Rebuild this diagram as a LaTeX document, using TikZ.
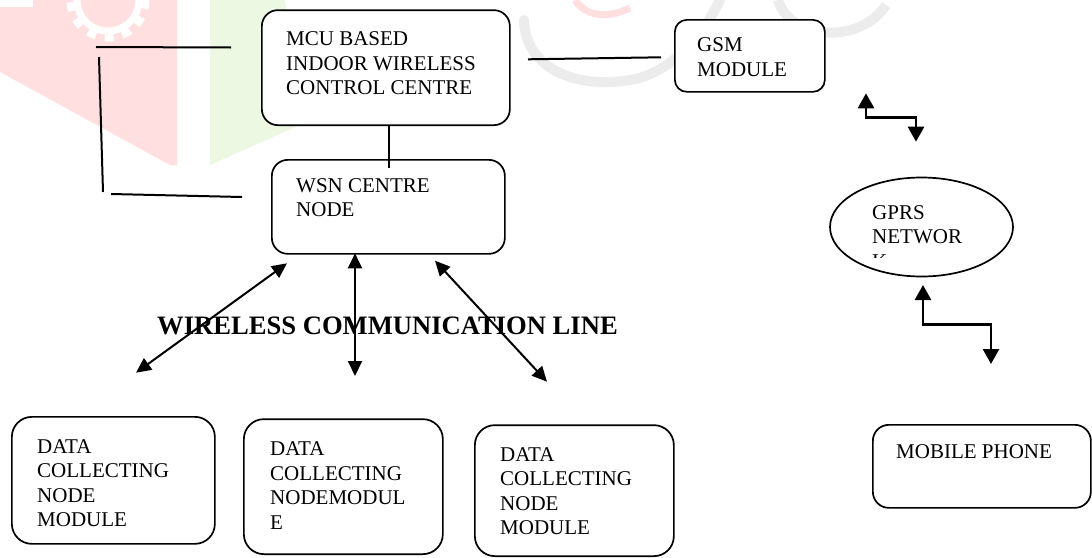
\documentclass[tikz,border=0pt]{standalone}
\usepackage{fontspec}
\setmainfont{Liberation Serif}
\usetikzlibrary{arrows.meta,calc,shapes.geometric}
\definecolor{wmred}{RGB}{255,223,223}
\definecolor{wmgreen}{RGB}{237,248,227}
\definecolor{wmgrey}{RGB}{236,236,236}
\tikzset{
  box/.style={draw, line width=1.7pt, fill=white, rounded corners=16pt, anchor=north west, inner sep=0pt},
  lbl/.style={anchor=north west, inner sep=0pt, align=left, font=\fontsize{21}{24.5}\selectfont},
  plain/.style={line width=2pt},
  biarrow/.style={line width=2pt, {Triangle[length=15pt,width=14pt]}-{Triangle[length=15pt,width=14pt]}},
  zz/.style={line width=2.7pt, {Triangle[length=15pt,width=16pt]}-{Triangle[length=15pt,width=16pt]}},
}
\begin{document}
\begin{tikzpicture}[x=1pt,y=-1pt]
\useasboundingbox (0,0) rectangle (1092,557);
\fill[white] (0,0) rectangle (1092,557);
% faint watermark
\fill[wmred] (0,7) -- (33,7) -- (33,0) -- (177,0) -- (177,165) -- (170,165) -- (0,72) -- cycle;
\draw[white, line width=7pt] (108,0) circle (31);
\draw[white, line width=7pt, dash pattern=on 9pt off 9pt] (108,0) circle (38);
\fill[wmgreen] (210,0) -- (285,0) -- (300,125) -- (210,165) -- cycle;
\draw[wmgrey, line width=10pt, line cap=round] (524,20) .. controls (525,70) and (580,92) .. (640,78) .. controls (680,65) and (705,30) .. (720,0);
\draw[wmred, line width=7pt] (575,0) .. controls (585,15) and (605,20) .. (630,8);
\draw[wmgrey, line width=10pt] (778,0) .. controls (790,40) and (860,45) .. (886,5);
% boxes
\node[box, minimum width=248pt, minimum height=115pt] (mcu) at (261,9.3) {};
\node[box, rounded corners=12pt, minimum width=150pt, minimum height=72pt] (gsm) at (674,19) {};
\node[box, minimum width=233pt, minimum height=94pt] (wsn) at (271,159) {};
\node[draw, ellipse, line width=1.7pt, fill=white, inner sep=0pt, minimum width=183pt, minimum height=99pt] (gprs) at (921.5,227) {};
\node[box, minimum width=218pt, minimum height=83pt] (mob) at (872,424) {};
\node[box, rounded corners=20pt, minimum width=203pt, minimum height=127pt] (d1) at (11,416) {};
\node[box, rounded corners=20pt, minimum width=199pt, minimum height=135pt] (d2) at (243,418.3) {};
\node[box, rounded corners=20pt, minimum width=199pt, minimum height=131pt] (d3) at (474,424.3) {};
% free ends
\coordinate (c1) at (389,168);
\coordinate (g1) at (528,59.3);
\coordinate (g2) at (661,57.3);
\coordinate (l1) at (96,47);
\coordinate (l2) at (231,47.5);
\coordinate (l3) at (99,57);
\coordinate (l4) at (103,192);
\coordinate (l5) at (111,194);
\coordinate (l6) at (242,197);
\coordinate (a1t) at (287,263.3);
\coordinate (a1b) at (136,372.7);
\coordinate (a2t) at (355,253.3);
\coordinate (a2b) at (355,376);
\coordinate (a3t) at (435,260.7);
\coordinate (a3b) at (547,381.7);
\coordinate (z1a) at (866,93.3);
\coordinate (z1b) at (916,141.7);
\coordinate (z2a) at (923,285);
\coordinate (z2b) at (991,364);
% connectors
\draw[plain] (c1 |- mcu.south) -- (c1);
\draw[plain] (g1) -- (g2);
\draw[plain] (l1) -- (l2);
\draw[plain] (l3) -- (l4);
\draw[plain] (l5) -- (l6);
\draw[biarrow] (a1t) -- (a1b);
\draw[biarrow] (a2t) -- (a2b);
\draw[biarrow] (a3t) -- (a3b);
\draw[zz] (z1a) |- ($(z1a)!.5!(z1b)$) -| (z1b);
\draw[zz] (z2a) |- ($(z2a)!.5!(z2b)$) -| (z2b);
% texts
\node[lbl] (tmcu) at (286,31.7) {MCU BASED\\INDOOR WIRELESS\\CONTROL CENTRE};
\node[lbl] (tgsm) at (697,37.7) {GSM\\MODULE};
\node[lbl] (twsn) at (296,178) {WSN CENTRE\\NODE};
\begin{scope}
\clip (830,180) rectangle (1013,257);
\node[lbl] (tgprs) at (872,205) {GPRS\\NETWOR\\K};
\end{scope}
\node[lbl] (tmob) at (896,444) {MOBILE PHONE};
\node[lbl] (td1) at (37,439) {DATA\\COLLECTING\\NODE\\MODULE};
\node[lbl] (td2) at (270,441.7) {DATA\\COLLECTING\\NODEMODUL\\E};
\node[lbl] (td3) at (500,447.3) {DATA\\COLLECTING\\NODE\\MODULE};
\node[anchor=north west, inner sep=0pt, font=\fontsize{26.6}{30}\selectfont\bfseries] (twcl) at (157,317) {WIRELESS COMMUNICATION LINE};
\end{tikzpicture}
\end{document}
